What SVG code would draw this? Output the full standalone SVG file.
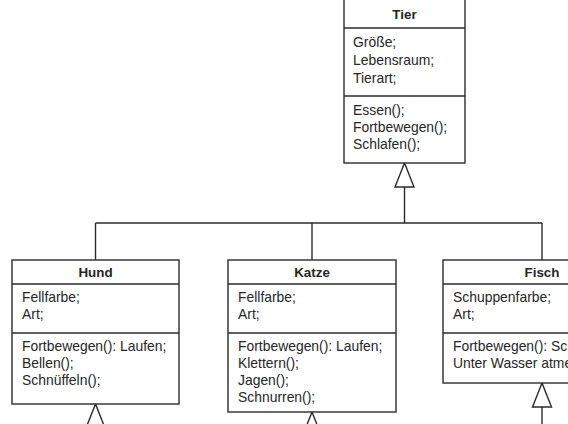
<svg xmlns="http://www.w3.org/2000/svg" width="568" height="424" viewBox="0 0 568 424">
<defs>
<style>
.box{fill:#fff;stroke:#2b2b2b;stroke-width:1.4}
.div{stroke:#2b2b2b;stroke-width:1.4;fill:none}
.t{font-family:"Liberation Sans",Arial,sans-serif;font-size:13.9px;fill:#262626}
.h{font-family:"Liberation Sans",Arial,sans-serif;font-size:13.4px;font-weight:bold;fill:#262626;text-anchor:middle}
.c{stroke:#2b2b2b;stroke-width:1.4;fill:none}
.tri{fill:#fff;stroke:#2b2b2b;stroke-width:1.4;stroke-linejoin:miter}
</style>
</defs>
<rect width="568" height="424" fill="#fff"/>
<g id="connectors">
<polyline class="c" points="404.5,187 404.5,223"/>
<polyline class="c" points="95.5,223 542,223"/>
<polyline class="c" points="95.5,223 95.5,260"/>
<polyline class="c" points="312,223 312,260"/>
<polyline class="c" points="542,223 542,260"/>
<polygon class="tri" points="404.5,163 395,187 414,187"/>
<polygon class="tri" points="95.5,404 86,428 105,428"/>
<polygon class="tri" points="312,412 302.5,436 321.5,436"/>
<polygon class="tri" points="542,383 532.5,407 551.5,407"/>
<polyline class="c" points="542,407 542,426"/>
</g>
<g id="tier">
<rect class="box" x="344" y="-4" width="121" height="167"/>
<line class="div" x1="344" y1="28" x2="465" y2="28"/>
<line class="div" x1="344" y1="96" x2="465" y2="96"/>
<text class="h" x="404.5" y="19">Tier</text>
<text class="t" x="353" y="47">Größe;</text>
<text class="t" x="353" y="65">Lebensraum;</text>
<text class="t" x="353" y="83">Tierart;</text>
<text class="t" x="353" y="115">Essen();</text>
<text class="t" x="353" y="132">Fortbewegen();</text>
<text class="t" x="353" y="149">Schlafen();</text>
</g>
<g id="hund">
<rect class="box" x="12" y="260" width="167" height="144"/>
<line class="div" x1="12" y1="284" x2="179" y2="284"/>
<line class="div" x1="12" y1="333" x2="179" y2="333"/>
<text class="h" x="95.5" y="277">Hund</text>
<text class="t" x="22" y="302">Fellfarbe;</text>
<text class="t" x="22" y="319">Art;</text>
<text class="t" x="22" y="351">Fortbewegen(): Laufen;</text>
<text class="t" x="22" y="368">Bellen();</text>
<text class="t" x="22" y="385">Schnüffeln();</text>
</g>
<g id="katze">
<rect class="box" x="228" y="260" width="168" height="152"/>
<line class="div" x1="228" y1="284" x2="396" y2="284"/>
<line class="div" x1="228" y1="333" x2="396" y2="333"/>
<text class="h" x="312" y="277">Katze</text>
<text class="t" x="238" y="302">Fellfarbe;</text>
<text class="t" x="238" y="319">Art;</text>
<text class="t" x="238" y="351">Fortbewegen(): Laufen;</text>
<text class="t" x="238" y="368">Klettern();</text>
<text class="t" x="238" y="385">Jagen();</text>
<text class="t" x="238" y="402">Schnurren();</text>
</g>
<g id="fisch">
<rect class="box" x="443" y="260" width="200" height="123"/>
<line class="div" x1="443" y1="284" x2="643" y2="284"/>
<line class="div" x1="443" y1="333" x2="643" y2="333"/>
<text class="h" x="542" y="277">Fisch</text>
<text class="t" x="453" y="302">Schuppenfarbe;</text>
<text class="t" x="453" y="319">Art;</text>
<text class="t" x="453" y="351">Fortbewegen(): Sch</text>
<text class="t" x="453" y="368">Unter Wasser atme</text>
</g>
</svg>
